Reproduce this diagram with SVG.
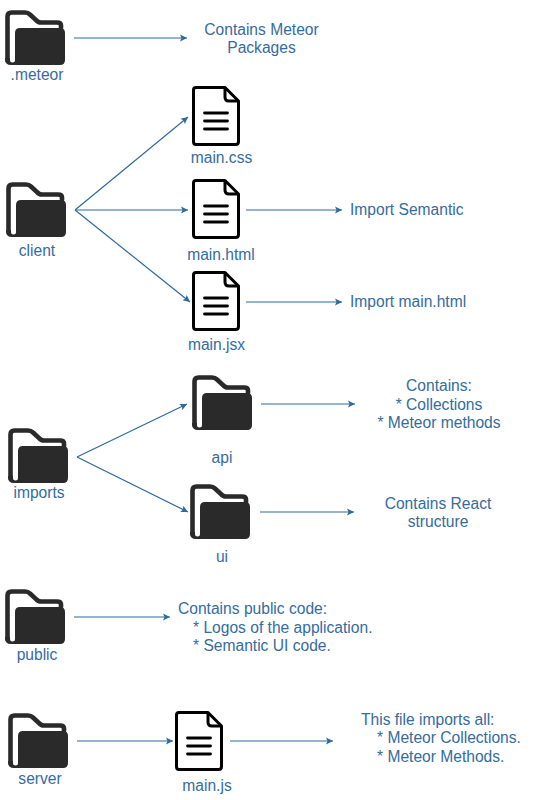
<svg xmlns="http://www.w3.org/2000/svg" xmlns:xlink="http://www.w3.org/1999/xlink" width="534" height="800" viewBox="0 0 534 800">
<style>
text{font-family:"Liberation Sans",Arial,sans-serif;font-size:15.6px;fill:#356c9c;text-anchor:middle}
.s{text-anchor:start}
.c line{stroke:#2f6a9c;stroke-width:1.2;marker-end:url(#a)}
</style>
<defs>
<marker id="a" markerUnits="userSpaceOnUse" markerWidth="8" markerHeight="8" refX="7" refY="4" orient="auto"><path d="M0 0.5L7 4L0 7.5L1.5 4Z" fill="#2f6a9c"/></marker>
<symbol id="folder" overflow="visible">
<path d="M2.500 50V6.500Q2.500 2.500 6.500 2.500H20Q23 2.500 25 4.500L31 10Q33 12.500 36 12.500H52Q56 12.500 56 15.500V18" fill="none" stroke="#2a2a2a" stroke-width="4.6" stroke-linecap="round"/>
<path d="M10 23Q10 18 15 18H55Q60 18 60 23V50Q60 55 55 55H6Q0 55 0 49V48H5V50A2.500 2.500 0 0 0 10 50Z" fill="#2a2a2a"/>
</symbol>
<symbol id="doc" overflow="visible">
<path d="M4 1.500H33L46.500 15V55.500Q46.500 58.500 43.500 58.500H4Q1.500 58.500 1.500 55.500V4Q1.500 1.500 4 1.500Z" fill="#fff" stroke="#000" stroke-width="3" stroke-linejoin="round"/>
<path d="M33 1.500V11Q33 15 37 15H46.500" fill="none" stroke="#000" stroke-width="3"/>
<path d="M12.500 27H35.500M12.500 35H35.500M12.500 43H35.500" stroke="#000" stroke-width="2.800" stroke-linecap="round"/>
</symbol>
</defs>
<rect width="534" height="800" fill="#fff"/>
<g class="c" id="connectors">
<line x1="74" y1="38" x2="187" y2="38"/>
<line x1="75" y1="210" x2="188" y2="117"/>
<line x1="75" y1="210" x2="188" y2="210"/>
<line x1="75" y1="210" x2="190" y2="302"/>
<line x1="246" y1="210" x2="342" y2="210"/>
<line x1="246" y1="302" x2="342" y2="302"/>
<line x1="77" y1="457" x2="187" y2="404"/>
<line x1="77" y1="457" x2="188" y2="512"/>
<line x1="261" y1="404" x2="355" y2="404"/>
<line x1="260" y1="512" x2="354" y2="512"/>
<line x1="74" y1="617" x2="170" y2="617"/>
<line x1="77" y1="741" x2="173" y2="741"/>
<line x1="230" y1="741" x2="333" y2="741"/>
</g>
<g id="meteor"><use href="#folder" x="5" y="10"/><text x="37" y="79.500">.meteor</text></g>
<g id="client"><use href="#folder" x="6" y="182"/><text x="37" y="255.700">client</text></g>
<g id="imports"><use href="#folder" x="8" y="428"/><text x="39" y="497.700">imports</text></g>
<g id="public"><use href="#folder" x="5" y="589"/><text x="37" y="659.500">public</text></g>
<g id="server"><use href="#folder" x="8" y="713"/><text x="40" y="783.500">server</text></g>
<g id="api"><use href="#folder" x="192" y="375"/><text x="222" y="462.500">api</text></g>
<g id="ui"><use href="#folder" x="190" y="484"/><text x="222" y="561.500">ui</text></g>
<g id="main-css"><use href="#doc" x="192" y="86"/><text x="221.500" y="162.500">main.css</text></g>
<g id="main-html"><use href="#doc" x="192" y="179"/><text x="221" y="259.500">main.html</text></g>
<g id="main-jsx"><use href="#doc" x="192" y="271"/><text x="216.500" y="349.500">main.jsx</text></g>
<g id="main-js"><use href="#doc" x="175" y="711"/><text x="207" y="790.500">main.js</text></g>
<g id="label-packages"><text x="261.500" y="34.500">Contains Meteor</text><text x="261.500" y="52.500">Packages</text></g>
<g id="label-semantic"><text class="s" x="350" y="214.600">Import Semantic</text></g>
<g id="label-mainhtml"><text class="s" x="350" y="306.600">Import main.html</text></g>
<g id="label-api"><text x="439" y="390.500">Contains:</text><text x="439" y="409.500">* Collections</text><text x="439" y="427.500">* Meteor methods</text></g>
<g id="label-ui"><text x="438" y="508.500">Contains React</text><text x="438" y="526.500">structure</text></g>
<g id="label-public"><text class="s" x="178" y="613.500">Contains public code:</text><text class="s" x="193" y="632.500">* Logos of the application.</text><text class="s" x="193" y="650.500">* Semantic UI code.</text></g>
<g id="label-server"><text class="s" x="361" y="724.500">This file imports all:</text><text class="s" x="377" y="742.500">* Meteor Collections.</text><text class="s" x="377" y="761.500">* Meteor Methods.</text></g>
</svg>
